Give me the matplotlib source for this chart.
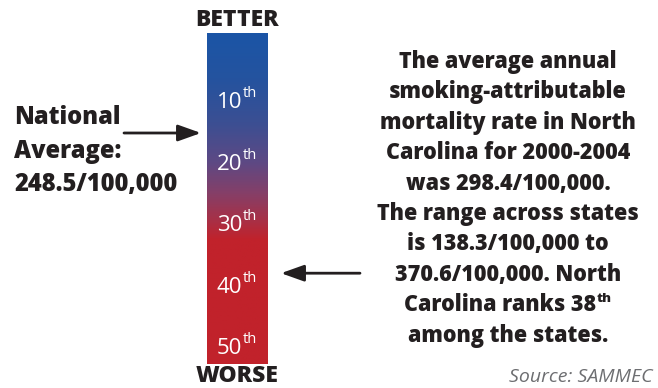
import matplotlib
matplotlib.use("Agg")
import matplotlib.pyplot as plt
import numpy as np
from matplotlib.colors import LinearSegmentedColormap

# ---- data ----
rank_ticks = [10, 20, 30, 40, 50]
nc_rank = 38
national_avg_label = ["National", "Average:", "248.5/100,000"]
top_label = "BETTER"
bottom_label = "WORSE"
right_lines = [
    "The average annual",
    "smoking-attributable",
    "mortality rate in North",
    "Carolina for 2000-2004",
    "was 298.4/100,000.",
    "The range across states",
    "is 138.3/100,000 to",
    "370.6/100,000. North",
    "Carolina ranks 38",
    "among the states.",
]
source = "Source: SAMMEC"

W, H = 658, 388
DARK = "#231f20"
FONT = "Open Sans"
BW = "heavy"

fig = plt.figure(figsize=(W / 100, H / 100), dpi=100)
ax = fig.add_axes([0, 0, 1, 1])
ax.set_xlim(0, W)
ax.set_ylim(H, 0)
ax.axis("off")

# bar axes in rank units
bx0, bx1, by0, by1 = 207, 268, 33, 364
def rank_to_px(r):
    return 41.5 + 6.15 * r
def px_to_rank(y):
    return (y - 41.5) / 6.15

bax = fig.add_axes([bx0 / W, 1 - by1 / H, (bx1 - bx0) / W, (by1 - by0) / H])
r_top, r_bot = px_to_rank(by0), px_to_rank(by1)
bax.set_xlim(0, 1)
bax.set_ylim(r_bot, r_top)
bax.axis("off")

stops = [(0.0, "#1b55a6"), (0.20, "#24539f"), (0.40, "#3b4f93"),
         (0.58, "#5d4984"), (0.72, "#853f68"), (0.85, "#aa2f44"), (0.93, "#c1222b"), (1.0, "#c1222b")]
cmap = LinearSegmentedColormap.from_list("bw", stops)
ys = np.linspace(by0, by1, 400)
grad = np.clip((ys - by0) / (240 - by0), 0, 1).reshape(-1, 1) * 0.93
grad = np.where(ys.reshape(-1, 1) >= 240, 1.0, grad)
bax.imshow(grad, aspect="auto", cmap=cmap, vmin=0, vmax=1,
           extent=[0, 1, r_bot, r_top], interpolation="bilinear")

for r in rank_ticks:
    bax.text(0.58, r, str(r), color="white", fontsize=16, family=FONT,
             ha="right", va="center")
    bax.text(0.585, r - 1.5, "th", color="white", fontsize=10.5, family=FONT,
             ha="left", va="center")

ax.text(237, 20, top_label, fontsize=16.5, family=FONT, weight=BW,
        color=DARK, ha="center", va="center")
ax.text(237, 376, bottom_label, fontsize=16.5, family=FONT, weight=BW,
        color=DARK, ha="center", va="center")

# left text
for i, line in enumerate(national_avg_label):
    ax.text(14, 118 + i * 33, line, fontsize=17, family=FONT, weight=BW,
            color=DARK, ha="left", va="center")

arrow_kw = dict(arrowstyle="-|>,head_length=1.4,head_width=0.5", color=DARK,
                lw=2, shrinkA=0, shrinkB=0)
ax.annotate("", xy=(201, 133), xytext=(124, 133), arrowprops=arrow_kw)
ax.annotate("", xy=(281, rank_to_px(nc_rank) - 2), xytext=(360, rank_to_px(nc_rank) - 2),
            arrowprops=arrow_kw)

# right text block
cx = 508
fs = 15.5
fig.canvas.draw()
renderer = fig.canvas.get_renderer()
for i, line in enumerate(right_lines):
    y = 62 + i * 30.4
    if line.endswith("38"):
        t = ax.text(cx, y, line, fontsize=fs, family=FONT, weight=BW,
                    color=DARK, ha="left", va="center")
        s = ax.text(cx, y - 6, "th", fontsize=9.5, family=FONT, weight=BW,
                    color=DARK, ha="left", va="center")
        w1 = t.get_window_extent(renderer).width
        w2 = s.get_window_extent(renderer).width
        x0 = cx - (w1 + w2 + 1) / 2
        t.set_x(x0)
        s.set_x(x0 + w1 + 1)
    else:
        ax.text(cx, y, line, fontsize=fs, family=FONT, weight=BW,
                color=DARK, ha="center", va="center")

ax.text(653, 377, source, fontsize=14, family=FONT, style="italic",
        color="#6d6e71", ha="right", va="center")

fig.savefig("out.png", dpi=100)
